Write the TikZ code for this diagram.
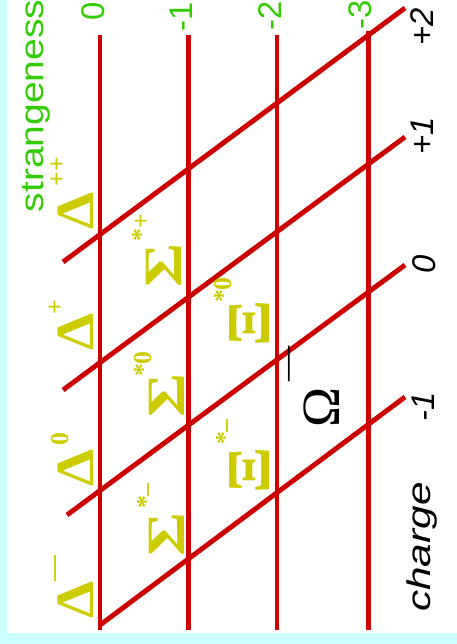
\documentclass[tikz,border=0pt]{standalone}
\usepackage{fontspec}
\setmainfont{Liberation Serif}
\newfontfamily\labelfont{Liberation Sans}
\definecolor{bgcyan}{HTML}{CCFFFF}
\definecolor{lnred}{HTML}{CC0000}
\definecolor{ptyellow}{HTML}{CCCC00}
\definecolor{stgreen}{HTML}{33CC00}

\begin{document}
\begin{tikzpicture}[x=0.03cm,y=-0.03cm,
    grid/.style={lnred,line width=4.2pt},
    particle/.style={ptyellow,rotate=90,inner sep=0pt,font=\bfseries\fontsize{46}{50}\selectfont},
    supscr/.style={ptyellow,rotate=90,inner sep=0pt,font=\bfseries\fontsize{22}{24}\selectfont},
    strange/.style={stgreen,rotate=90,inner sep=0pt,font=\labelfont\fontsize{28}{30}\selectfont},
    chg/.style={black,rotate=90,inner sep=0pt,font=\labelfont\itshape\fontsize{28}{30}\selectfont}]

  % =====================================================================
  % 1. FRAME
  % =====================================================================
  \useasboundingbox (0,0) rectangle (457,644);
  \fill[bgcyan] (0,0) rectangle (457,644);
  \fill[white] (7,0) rectangle (457,633);

  % =====================================================================
  % 2. GRID: strangeness lines and charge lines
  % =====================================================================
  \foreach \x/\top in {100/35, 188.5/35, 277/35, 368.5/31}
    \draw[grid] (\x,\top) -- (\x,630);

  \draw[grid] (63,262) -- (405,8);     % charge +2
  \draw[grid] (63,390) -- (405,137);   % charge +1
  \draw[grid] (67,515) -- (405,265);   % charge 0
  \draw[grid] (100,625) -- (405,397);  % charge -1

  % =====================================================================
  % 3. AXIS LABELS
  % =====================================================================
  \node[strange] (strangeness) at (36,106) {\scalebox{1.19}[1]{strangeness}};
  \node[strange] (szero)  at (93,11)  {0};
  \node[strange] (sone)   at (181,17) {-1};
  \node[strange] (stwo)   at (270,16) {-2};
  \node[strange] (sthree) at (360,15) {-3};

  \node[chg] (ctwo)   at (422,27)  {+2};
  \node[chg] (cone)   at (422,136) {+1};
  \node[chg] (czero)  at (424,264) {0};
  \node[chg] (cminus) at (423,407) {-1};
  \node[chg] (charge) at (422,547) {\scalebox{1.29}[1]{charge}};

  % =====================================================================
  % 4. DECUPLET
  % =====================================================================
  % Delta
  \node[particle] (dm)  at (75.5,600) {\scalebox{1.1}[1]{Δ}};
  \node[supscr]   (dmsup)  at (58,569) {—};
  \node[particle] (dz)  at (75.5,468) {\scalebox{1.1}[1]{Δ}};
  \node[supscr]   (dzsup)  at (60,439) {0};
  \node[particle] (dp)  at (75.5,332) {\scalebox{1.1}[1]{Δ}};
  \node[supscr]   (dpsup)  at (56,307) {+};
  \node[particle] (dpp) at (75.5,211) {\scalebox{1.1}[1]{Δ}};
  \node[supscr]   (dppsup) at (58,172) {++};

  % Sigma*
  \node[particle] (sm) at (166.5,534) {\scalebox{1.25}[1]{Σ}};
  \node[supscr]   (smsup) at (146,496) {*–};
  \node[particle] (sz) at (166.5,395) {\scalebox{1.25}[1]{Σ}};
  \node[supscr]   (szsup) at (143,364) {*0};
  \node[particle] (sp) at (164,265) {\scalebox{1.25}[1]{Σ}};
  \node[supscr]   (spsup) at (141,228) {*+};

  % Xi*
  \node[particle,font=\bfseries\fontsize{52}{56}\selectfont] (xm) at (250,470) {\scalebox{1.12}[1]{Ξ}};
  \node[supscr]   (xmsup) at (225,432) {*–};
  \node[particle,font=\bfseries\fontsize{52}{56}\selectfont] (xz) at (250,323) {\scalebox{1.12}[1]{Ξ}};
  \node[supscr]   (xzsup) at (223,290) {*0};

  % Omega
  \node[particle,black,font=\fontsize{46}{50}\selectfont] (om) at (321.5,407) {Ω};
  \node[supscr,black,font=\fontsize{30}{32}\selectfont] (omsup) at (293,364) {—};

\end{tikzpicture}
\end{document}
